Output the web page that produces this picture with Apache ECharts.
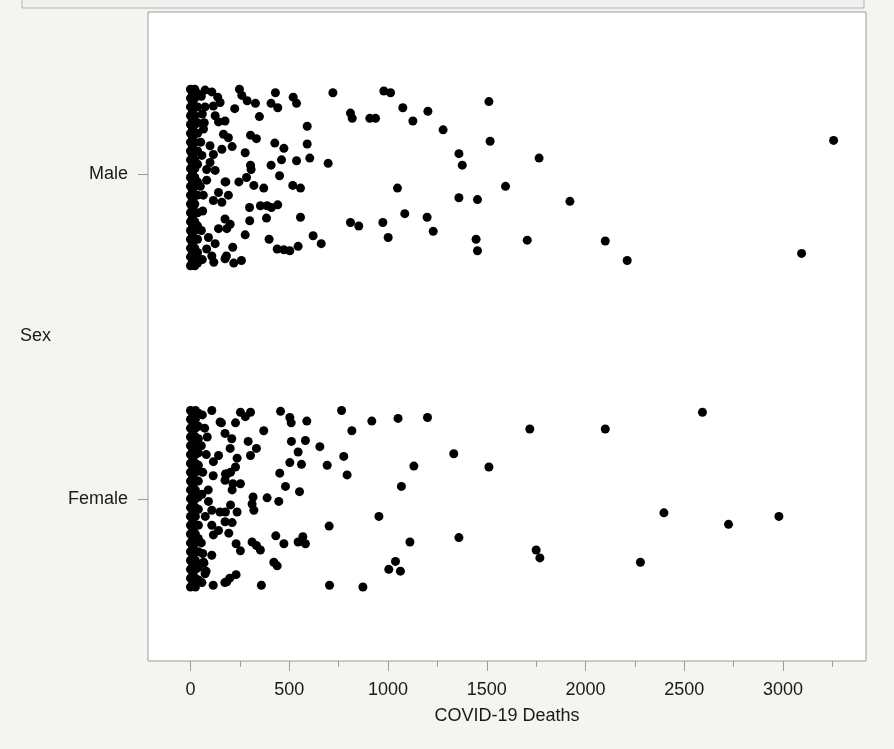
<!DOCTYPE html>
<html>
<head>
<meta charset="utf-8">
<title>COVID-19 Deaths by Sex</title>
<script src="https://cdn.jsdelivr.net/npm/echarts@6/dist/echarts.min.js"></script>
<style>
	html,body{
		margin: 0;
		padding: 0;
		background: #f4f4f1;
	}
	#chart{
		width: 894px;
		height: 749px;
	}
</style>
</head>
<body>
<div id="chart"></div>
<script>
// categories, bottom to top
const categories = ['Female', 'Male'];
const xTicks = [0, 500, 1000, 1500, 2000, 2500, 3000];
const xMinorTicks = [250, 750, 1250, 1750, 2250, 2750, 3250];

// points are [deaths, jitter]; jitter runs -1 (bottom of band) .. 1 (top of band)
const maleDense = [
	[0,1],[0,0.9],[0,0.8],[0,0.7],[0,0.6],[0,0.5],[0,0.4],[0,0.3],[0,0.2],[0,0.1],[0,0],
	[0,-0.1],[0,-0.2],[0,-0.3],[0,-0.4],[0,-0.5],[0,-0.6],[0,-0.7],[0,-0.8],[0,-0.9],[0,-1],
	[10,0.95],[10,0.85],[10,0.75],[10,0.65],[10,0.55],[10,0.45],[10,0.35],[10,0.25],[10,0.15],[10,0.05],
	[10,-0.05],[10,-0.15],[10,-0.25],[10,-0.35],[10,-0.45],[10,-0.55],[10,-0.65],[10,-0.75],[10,-0.85],[10,-0.95],
	[22,1],[22,0.9],[22,0.8],[22,0.7],[22,0.6],[22,0.5],[22,0.4],[22,0.3],[22,0.2],[22,0.1],[22,0],
	[22,-0.1],[22,-0.2],[22,-0.3],[22,-0.4],[22,-0.5],[22,-0.6],[22,-0.7],[22,-0.8],[22,-0.9],[22,-1],
	[36,0.95],[36,0.8],[36,0.62],[36,0.5],[36,0.3],[36,0.15],[36,-0.05],[36,-0.2],[36,-0.4],[36,-0.55],[36,-0.7],[36,-0.85],[36,-0.97]
];
const maleSpread = [
	[74,0.99],[108,0.97],[138,0.91],[150,0.85],[116,0.81],[125,0.7],[142,0.63],[175,0.64],[167,0.49],[192,0.45],
	[99,0.36],[159,0.32],[116,0.26],[99,0.17],[82,0.09],[125,0.08],[74,0.8],[66,0.55],[82,-0.03],[175,-0.05],
	[142,-0.17],[192,-0.2],[116,-0.26],[159,-0.28],[175,-0.47],[201,-0.53],[142,-0.58],[184,-0.58],[91,-0.68],[125,-0.75],
	[82,-0.81],[108,-0.89],[175,-0.92],[55,0.92],[60,0.72],[52,0.4],[58,0.25],[50,-0.1],[62,-0.38],[55,-0.6],
	[60,-0.93],[70,0.62],[65,-0.2]
];
const maleOuter = [
	[248,1],[260,0.93],[287,0.87],[329,0.84],[430,0.96],[408,0.84],[442,0.79],[520,0.91],[537,0.84],[721,0.96],
	[979,0.98],[1013,0.96],[1511,0.86],[224,0.78],[349,0.69],[810,0.73],[819,0.67],[908,0.67],[937,0.67],[1075,0.79],
	[1202,0.75],[1126,0.64],[1279,0.54],[591,0.58],[1517,0.41],[427,0.39],[473,0.33],[591,0.38],[604,0.22],[537,0.19],
	[697,0.16],[461,0.2],[408,0.14],[1359,0.27],[1376,0.14],[277,0.28],[211,0.35],[304,0.48],[334,0.44],[304,0.14],
	[307,0.09],[451,0.02],[1595,-0.1],[1048,-0.12],[518,-0.09],[557,-0.12],[371,-0.12],[321,-0.09],[245,-0.05],[284,0],
	[179,-0.05],[1359,-0.23],[1453,-0.25],[354,-0.32],[388,-0.32],[410,-0.34],[442,-0.31],[299,-0.34],[385,-0.46],[300,-0.49],
	[557,-0.45],[810,-0.51],[852,-0.55],[974,-0.51],[1085,-0.41],[1198,-0.45],[1229,-0.61],[1001,-0.68],[1446,-0.7],[1453,-0.83],
	[621,-0.66],[662,-0.75],[398,-0.7],[439,-0.81],[473,-0.82],[503,-0.83],[545,-0.78],[277,-0.65],[214,-0.79],[182,-0.89],
	[219,-0.97],[258,-0.94],[118,-0.96],
	[3256,0.42],[1765,0.22],[1921,-0.27],[1705,-0.71],[2100,-0.72],[2211,-0.94],[3094,-0.86]
];

const femaleDense = [
	[0,1],[0,0.9],[0,0.8],[0,0.7],[0,0.6],[0,0.5],[0,0.4],[0,0.3],[0,0.2],[0,0.1],[0,0],
	[0,-0.1],[0,-0.2],[0,-0.3],[0,-0.4],[0,-0.5],[0,-0.6],[0,-0.7],[0,-0.8],[0,-0.9],[0,-1],
	[12,0.95],[12,0.85],[12,0.75],[12,0.65],[12,0.55],[12,0.45],[12,0.35],[12,0.25],[12,0.15],[12,0.05],
	[12,-0.05],[12,-0.15],[12,-0.25],[12,-0.35],[12,-0.45],[12,-0.55],[12,-0.65],[12,-0.75],[12,-0.85],[12,-0.95],
	[25,1],[25,0.9],[25,0.8],[25,0.7],[25,0.6],[25,0.5],[25,0.4],[25,0.3],[25,0.2],[25,0.1],[25,0],
	[25,-0.1],[25,-0.2],[25,-0.3],[25,-0.4],[25,-0.5],[25,-0.6],[25,-0.7],[25,-0.8],[25,-0.9],[25,-1],
	[40,0.97],[40,0.82],[40,0.68],[40,0.52],[40,0.38],[40,0.2],[40,0.02],[40,-0.12],[40,-0.3],[40,-0.45],[40,-0.6],[40,-0.78],[40,-0.92]
];
const femaleSpread = [
	[108,1],[150,0.87],[175,0.74],[209,0.68],[201,0.57],[142,0.49],[116,0.42],[184,0.28],[175,0.21],[215,0.17],
	[91,-0.03],[108,-0.13],[175,-0.26],[108,-0.3],[142,-0.36],[116,-0.41],[66,-0.72],[74,-0.85],[184,-0.94],
	[60,0.95],[72,0.8],[55,0.6],[80,0.5],[62,0.3],[58,0.05],[75,-0.2],[55,-0.5],[62,-0.62],[58,-0.95],
	[85,0.7],[90,0.1]
];
const femaleOuter = [
	[765,1],[456,0.99],[503,0.92],[510,0.86],[589,0.88],[918,0.88],[1051,0.91],[1200,0.92],[253,0.98],[304,0.98],
	[278,0.93],[228,0.86],[157,0.86],[371,0.77],[817,0.77],[292,0.65],[334,0.57],[304,0.49],[511,0.65],[582,0.66],
	[545,0.53],[655,0.59],[776,0.48],[1333,0.51],[503,0.41],[562,0.39],[692,0.38],[793,0.27],[1131,0.37],[1511,0.36],
	[452,0.29],[236,0.46],[228,0.36],[203,0.3],[177,0.28],[115,0.26],[1068,0.14],[481,0.14],[552,0.08],[253,0.17],
	[211,0.1],[388,0.01],[317,0.02],[312,-0.06],[321,-0.13],[447,-0.03],[203,-0.07],[149,-0.15],[177,-0.15],[236,-0.15],
	[954,-0.2],[702,-0.31],[211,-0.27],[194,-0.39],[1359,-0.44],[1111,-0.49],[432,-0.42],[473,-0.51],[545,-0.49],[569,-0.43],
	[582,-0.51],[312,-0.49],[334,-0.53],[354,-0.58],[231,-0.51],[253,-0.59],[108,-0.64],[422,-0.72],[439,-0.76],[1038,-0.71],
	[1004,-0.8],[1063,-0.82],[68,-0.73],[79,-0.82],[231,-0.86],[199,-0.9],[174,-0.95],[115,-0.98],[359,-0.98],[704,-0.98],
	[873,-1],
	[1718,0.79],[2100,0.79],[2592,0.98],[2397,-0.16],[2724,-0.29],[2979,-0.2],[1750,-0.58],[1769,-0.67],[2278,-0.72]
];

// band centre on the hidden 0..2 axis and half height of the jitter band
const centre = {Female: 0.5, Male: 1.49};
const halfBand = 0.272;

function place(points, sex){
	return points.map(p => [p[0], centre[sex] + p[1] * halfBand]);
}

const maleData = place(maleDense.concat(maleSpread, maleOuter), 'Male');
const femaleData = place(femaleDense.concat(femaleSpread, femaleOuter), 'Female');

const textColor = '#1a1a1a';
const font = '"Liberation Sans", Arial, sans-serif';

let myChart = echarts.init(document.getElementById('chart'));
let option = {
	backgroundColor: '#f4f4f1',
	animation: false,
	textStyle: {fontFamily: font},
	grid: {
		left: 148,
		right: 28,
		top: 12,
		bottom: 88,
		show: true,
		backgroundColor: '#ffffff',
		borderColor: '#9c9c9c',
		borderWidth: 1
	},
	graphic: [
		{
			type: 'rect',
			shape: {x: 22, y: -4, width: 842, height: 12},
			style: {fill: '#f0f0ee', stroke: '#b4b4b4', lineWidth: 1}
		},
		{
			type: 'text',
			left: 20,
			top: 327,
			style: {text: 'Sex', fill: textColor, font: '18px ' + font}
		}
	],
	xAxis: [
		{
			type: 'value',
			position: 'bottom',
			min: -215,
			max: 3420,
			name: 'COVID-19 Deaths',
			nameLocation: 'middle',
			nameGap: 46,
			nameTextStyle: {color: textColor, fontSize: 18, fontFamily: font},
			axisLine: {show: false, onZero: false},
			splitLine: {show: false},
			axisTick: {show: true, length: 10, customValues: xTicks, lineStyle: {color: '#9c9c9c'}},
			axisLabel: {customValues: xTicks, color: textColor, fontSize: 18, margin: 20, fontFamily: font,
				formatter: v => String(v)}
		},
		{
			type: 'value',
			position: 'bottom',
			min: -215,
			max: 3420,
			axisLine: {show: false, onZero: false},
			splitLine: {show: false},
			axisLabel: {show: false},
			axisTick: {show: true, length: 6, customValues: xMinorTicks, lineStyle: {color: '#9c9c9c'}}
		}
	],
	yAxis: [
		{
			type: 'category',
			data: categories,
			boundaryGap: true,
			axisLine: {show: false, onZero: false},
			splitLine: {show: false},
			axisTick: {show: true, alignWithLabel: true, length: 10, lineStyle: {color: '#9c9c9c'}},
			axisLabel: {color: textColor, fontSize: 18, margin: 20, fontFamily: font}
		},
		{
			type: 'value',
			min: 0,
			max: 2,
			show: false
		}
	],
	series: [
		{
			name: 'Male',
			type: 'scatter',
			yAxisIndex: 1,
			symbolSize: 9,
			itemStyle: {color: '#000000', opacity: 1},
			data: maleData
		},
		{
			name: 'Female',
			type: 'scatter',
			yAxisIndex: 1,
			symbolSize: 9,
			itemStyle: {color: '#000000', opacity: 1},
			data: femaleData
		}
	]
};
myChart.setOption(option);
</script>
</body>
</html>
